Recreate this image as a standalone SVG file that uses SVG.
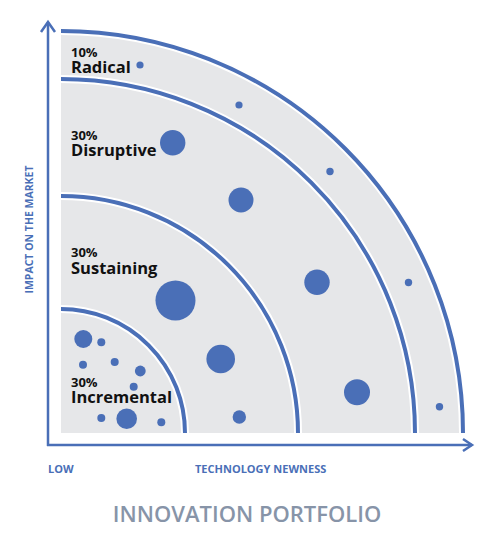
<svg xmlns="http://www.w3.org/2000/svg" width="500" height="541" viewBox="0 0 500 541">
<style>
.arc{fill:none;stroke:#4a6fb7;stroke-width:4}
.gap{fill:none;stroke:#ffffff;stroke-width:8}
.axis{fill:none;stroke:#4a6fb7;stroke-width:2.5;stroke-linejoin:miter}
.dot{fill:#4a6fb7}
.pct{font-family:"Open Sans","Liberation Sans",sans-serif;font-weight:700;font-size:13px;fill:#111}
.name{font-family:"Open Sans","Liberation Sans",sans-serif;font-weight:700;font-size:16.5px;fill:#111}
.ax{font-family:"Open Sans","Liberation Sans",sans-serif;font-weight:700;font-size:11px;fill:#4a6fb7}
.title{font-family:"Open Sans","Liberation Sans",sans-serif;font-weight:600;font-size:22px;fill:#8794a8}
</style>
<g id="background">
<path d="M61,433 L61,31 A402,402 0 0 1 463,433 Z" fill="#e6e7e9"/>
</g>
<g id="rings">
<path class="gap" d="M61,79 A354,354 0 0 1 415,433"/>
<path class="gap" d="M61,196 A237,237 0 0 1 298,433"/>
<path class="gap" d="M61,309 A124,124 0 0 1 185,433"/>
<path class="gap" d="M61,31 A402,402 0 0 1 463,433" stroke-width="7"/>
<path class="arc" d="M61,31 A402,402 0 0 1 463,433"/>
<path class="arc" d="M61,79 A354,354 0 0 1 415,433"/>
<path class="arc" d="M61,196 A237,237 0 0 1 298,433"/>
<path class="arc" d="M61,309 A124,124 0 0 1 185,433"/>
<rect x="55" y="433" width="420" height="10" fill="#ffffff"/>
</g>
<g id="axes">
<path class="axis" d="M48,446 L48,22"/>
<path class="axis" d="M41,32 L48,22 L55,32"/>
<path class="axis" d="M47,445 L472,445"/>
<path class="axis" d="M463,439 L472,445 L463,451"/>
</g>
<g id="radical">
<text class="pct" x="71" y="56.5">10%</text>
<text class="name" x="71" y="73">Radical</text>
<circle class="dot" cx="140" cy="65" r="3.6"/>
<circle class="dot" cx="239" cy="105" r="3.6"/>
<circle class="dot" cx="330" cy="171.5" r="3.7"/>
<circle class="dot" cx="408.5" cy="282.5" r="3.7"/>
<circle class="dot" cx="439.5" cy="406.7" r="3.7"/>
</g>
<g id="disruptive">
<text class="pct" x="71" y="139.5">30%</text>
<text class="name" x="71" y="156">Disruptive</text>
<circle class="dot" cx="172.7" cy="142.7" r="12.7"/>
<circle class="dot" cx="241" cy="200" r="12.5"/>
<circle class="dot" cx="317" cy="282.3" r="12.7"/>
<circle class="dot" cx="357" cy="392.3" r="13"/>
</g>
<g id="sustaining">
<text class="pct" x="71" y="256.5">30%</text>
<text class="name" x="71" y="274">Sustaining</text>
<circle class="dot" cx="175.5" cy="300.5" r="20"/>
<circle class="dot" cx="220.7" cy="359" r="14.3"/>
<circle class="dot" cx="239.3" cy="417" r="6.7"/>
</g>
<g id="incremental">
<text class="pct" x="71" y="386.5">30%</text>
<text class="name" x="71" y="403">Incremental</text>
<circle class="dot" cx="83.3" cy="339" r="9"/>
<circle class="dot" cx="101.3" cy="342.3" r="4"/>
<circle class="dot" cx="83" cy="364.7" r="4"/>
<circle class="dot" cx="114.7" cy="362" r="4"/>
<circle class="dot" cx="140.3" cy="371" r="5.4"/>
<circle class="dot" cx="133.7" cy="386.7" r="4"/>
<circle class="dot" cx="101.3" cy="418" r="4"/>
<circle class="dot" cx="126.7" cy="418.7" r="10.3"/>
<circle class="dot" cx="161.3" cy="422.3" r="4"/>
</g>
<g id="labels">
<text class="ax" transform="translate(33,229.5) rotate(-90)" text-anchor="middle" style="font-size:10.5px">IMPACT ON THE MARKET</text>
<text class="ax" x="48" y="473">LOW</text>
<text class="ax" x="195" y="473">TECHNOLOGY NEWNESS</text>
<text class="title" x="247" y="522" text-anchor="middle">INNOVATION PORTFOLIO</text>
</g>
</svg>
